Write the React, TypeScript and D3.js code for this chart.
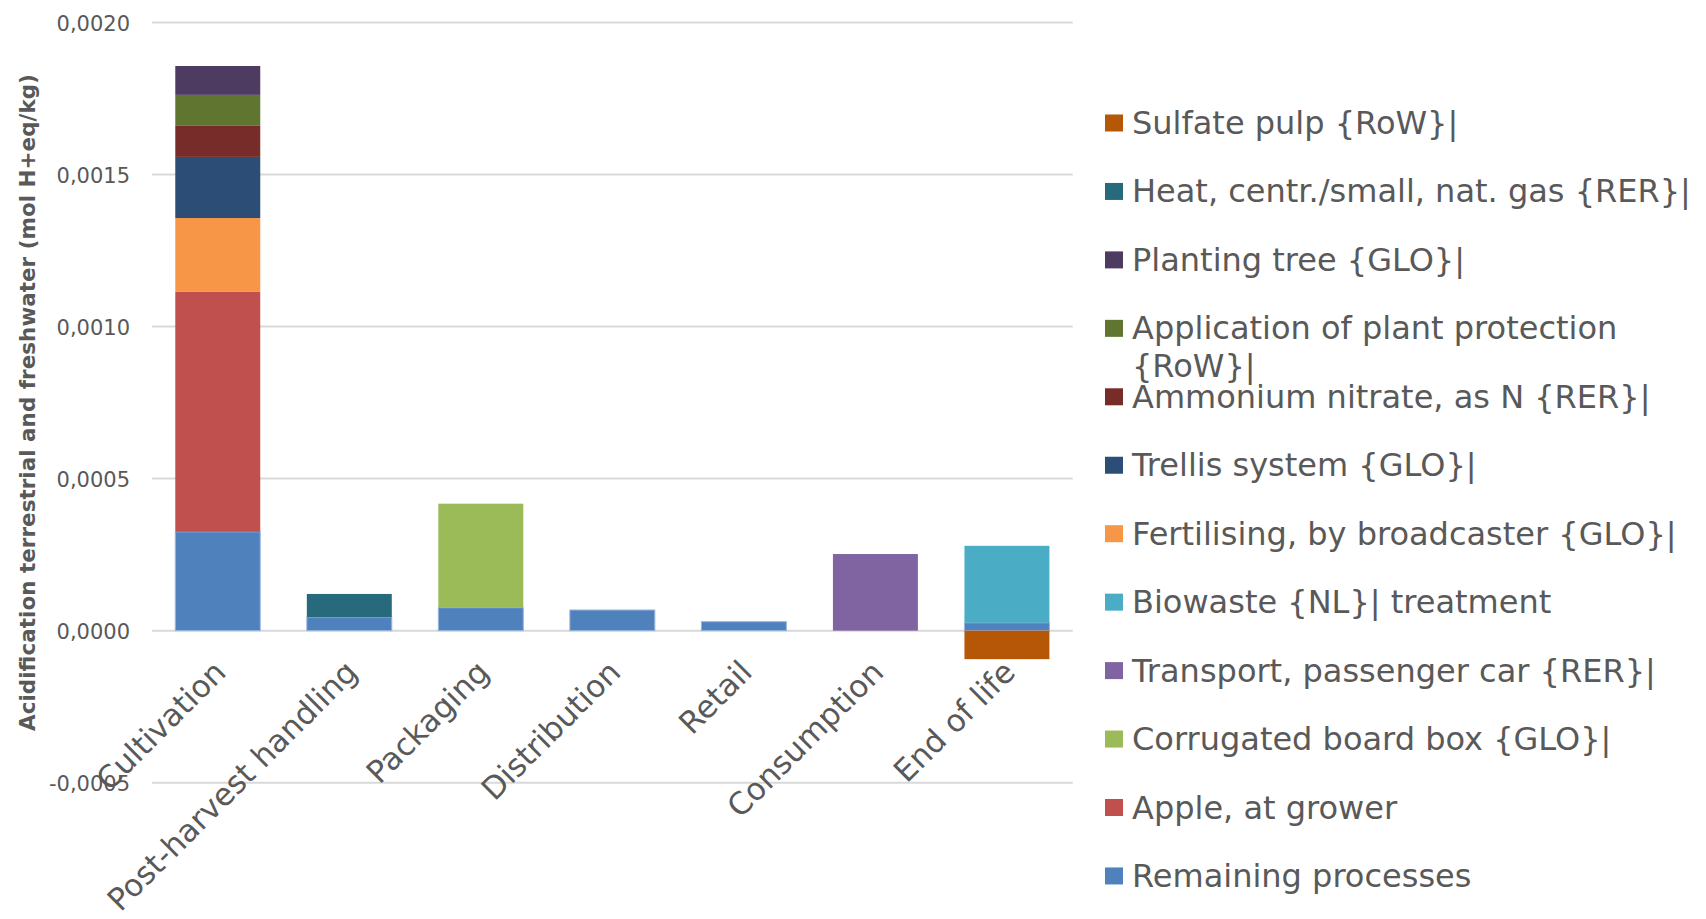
import React from 'react';
import * as d3 from 'd3';

const categories = ["Cultivation", "Post-harvest handling", "Packaging", "Distribution", "Retail", "Consumption", "End of life"];

const seriesNames = [
  "Remaining processes",
  "Apple, at grower",
  "Corrugated board box {GLO}|",
  "Transport, passenger car {RER}|",
  "Biowaste {NL}| treatment",
  "Fertilising, by broadcaster {GLO}|",
  "Trellis system {GLO}|",
  "Ammonium nitrate, as N {RER}|",
  "Application of plant protection {RoW}|",
  "Planting tree {GLO}|",
  "Heat, centr./small, nat. gas {RER}|",
  "Sulfate pulp {RoW}|",
];

const seriesColors = [
  "#4f81bd", "#c0504d", "#9bbb59", "#8064a2", "#4bacc6", "#f79646",
  "#2c4d75", "#772c2a", "#5f7530", "#4d3b62", "#276a7c", "#b65708",
];

// values per category (mol H+ eq/kg)
const remaining   = [0.000325, 0.000044, 0.0000756, 0.000068, 0.0000296, 0, 0.000026];
const apple       = [0.000789, 0, 0, 0, 0, 0, 0];
const corrugated  = [0, 0, 0.000342, 0, 0, 0, 0];
const transport   = [0, 0, 0, 0, 0, 0.000252, 0];
const biowaste    = [0, 0, 0, 0, 0, 0, 0.000253];
const fertilising = [0.000243, 0, 0, 0, 0, 0, 0];
const trellis     = [0.000201, 0, 0, 0, 0, 0, 0];
const ammonium    = [0.000102, 0, 0, 0, 0, 0, 0];
const application = [0.000102, 0, 0, 0, 0, 0, 0];
const planting    = [0.000095, 0, 0, 0, 0, 0, 0];
const heat        = [0, 0.0000767, 0, 0, 0, 0, 0];
const sulfate     = [0, 0, 0, 0, 0, 0, -0.0000937];

const seriesValues = [remaining, apple, corrugated, transport, biowaste, fertilising, trellis, ammonium, application, planting, heat, sulfate];

const yTicks = [-0.0005, 0, 0.0005, 0.001, 0.0015, 0.002];
const yTitle = "Acidification terrestrial and freshwater (mol H+eq/kg)";

const W = 1706, H = 919;
const plotLeft = 152, plotRight = 1072.7, plotTop = 22.5, plotBottom = 782.7;
const textColor = "#595959";
const font = "'DejaVu Sans', Verdana, sans-serif";

const locale = d3.formatLocale({ decimal: ",", thousands: ".", grouping: [3], currency: ["", ""], minus: "-" });
const fmt = locale.format(".4f");

export default function App() {
  const x = d3.scaleBand<string>().domain(categories).range([plotLeft, plotRight]).paddingInner(0.354).paddingOuter(0.177);
  const y = d3.scaleLinear().domain([-0.0005, 0.002]).range([plotBottom, plotTop]);

  const rows = categories.map((c, i) => {
    const r: any = { cat: c };
    seriesNames.forEach((s, j) => { r[s] = seriesValues[j][i]; });
    return r;
  });
  const stacked = d3.stack<any>().keys(seriesNames).offset(d3.stackOffsetDiverging)(rows);

  const legendOrder = [...seriesNames].reverse();
  const legendTop = 123, legendStep = 68.45;

  return (
    <svg width={W} height={H} style={{ position: 'absolute', left: 0, top: 0, background: '#fff' }} fontFamily={font}>
      {/* gridlines */}
      {yTicks.map((t) => (
        <line key={t} x1={plotLeft} x2={plotRight} y1={y(t)} y2={y(t)} stroke="#d9d9d9" strokeWidth={2} />
      ))}
      {/* tick labels */}
      {yTicks.map((t) => (
        <text key={'l' + t} x={130} y={y(t) + 8} textAnchor="end" fontSize={21} fill={textColor}>{fmt(t)}</text>
      ))}
      {/* bars */}
      {stacked.map((layer, j) => (
        <g key={layer.key} fill={seriesColors[j]}>
          {layer.map((d, i) => {
            const v = seriesValues[j][i];
            if (!v) return null;
            const y0 = y(d[0]), y1 = y(d[1]);
            return (
              <rect key={i} x={x(categories[i])} width={x.bandwidth()} y={Math.min(y0, y1)} height={Math.abs(y1 - y0)}
                stroke={j === 0 ? "#9ab6dc" : "none"} strokeWidth={j === 0 ? 1 : 0} />
            );
          })}
        </g>
      ))}
      {/* x labels */}
      {categories.map((c) => {
        const cx = (x(c) as number) + x.bandwidth() / 2;
        return (
          <text key={c} transform={`translate(${cx + 10},${674}) rotate(-45)`} textAnchor="end" fontSize={31} fill={textColor}>{c}</text>
        );
      })}
      {/* y title */}
      <text transform={`translate(35,402.5) rotate(-90)`} textAnchor="middle" fontSize={21.5} fontWeight="bold" fill={textColor}>{yTitle}</text>
      {/* legend */}
      {legendOrder.map((s, k) => {
        const j = seriesNames.indexOf(s);
        const cy = legendTop + k * legendStep;
        const wrap = s === "Application of plant protection {RoW}|";
        return (
          <g key={s}>
            <rect x={1105} y={cy - 8.5} width={18} height={17} fill={seriesColors[j]} />
            {wrap ? (
              <text x={1132} y={cy + 11} fontSize={32} fill={textColor}>
                <tspan x={1132}>Application of plant protection</tspan>
                <tspan x={1132} dy={38}>{"{RoW}|"}</tspan>
              </text>
            ) : (
              <text x={1132} y={cy + 11} fontSize={32} fill={textColor}>{s}</text>
            )}
          </g>
        );
      })}
    </svg>
  );
}
